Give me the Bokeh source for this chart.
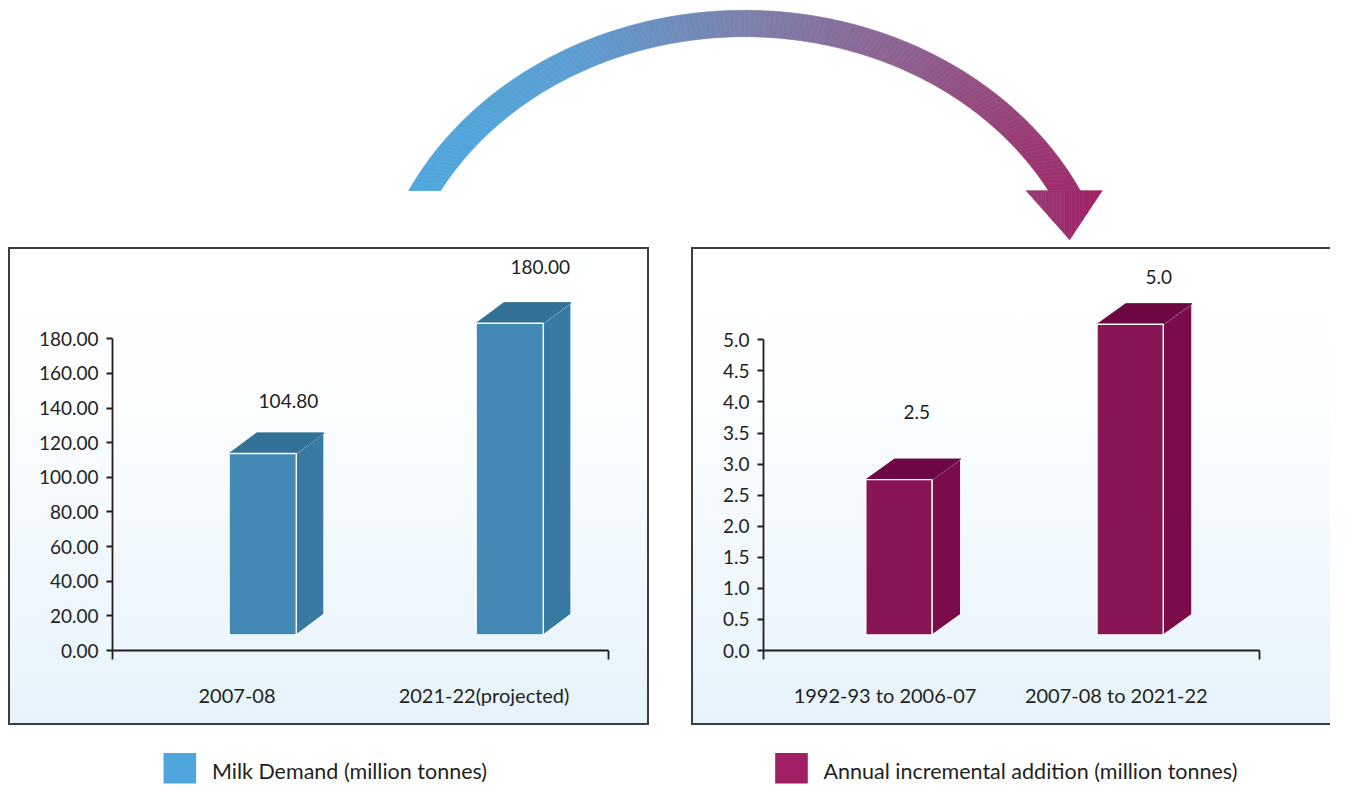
import math
from bokeh.plotting import figure
from bokeh.layouts import column, row
from bokeh.models import Spacer, FixedTicker
from bokeh.embed import file_html
from bokeh.resources import INLINE
from bokeh.core.properties import value

FONT = "Lato"
TEXT = "#231f20"

# ---------------- data ----------------
demand_periods = ["2007-08", "2021-22(projected)"]
demand_values = [104.80, 180.00]
demand_value_labels = ["104.80", "180.00"]
demand_ticks = [0, 20, 40, 60, 80, 100, 120, 140, 160, 180]
demand_tick_labels = ["0.00", "20.00", "40.00", "60.00", "80.00", "100.00",
                      "120.00", "140.00", "160.00", "180.00"]

addition_periods = ["1992-93 to 2006-07", "2007-08 to 2021-22"]
addition_values = [2.5, 5.0]
addition_value_labels = ["2.5", "5.0"]
addition_ticks = [0.0, 0.5, 1.0, 1.5, 2.0, 2.5, 3.0, 3.5, 4.0, 4.5, 5.0]
addition_tick_labels = ["0.0", "0.5", "1.0", "1.5", "2.0", "2.5",
                        "3.0", "3.5", "4.0", "4.5", "5.0"]

legend_labels = ["Milk Demand (million tonnes)",
                 "Annual incremental addition (million tonnes)"]

# ---------------- styles / layout ----------------
BLUE = dict(front="#4289b6", side="#387aa1", top="#347197", legend="#4ea6dc")
MAGENTA = dict(front="#881554", side="#7a0c4a", top="#6c0742", legend="#a11f63")
GRAD = "linear-gradient(to bottom, #ffffff 0%, #fcfeff 30%, #e6f3fb 100%)"

TOTAL_W, TOTAL_H = 1330, 785       # drawing size
REF_W, REF_H = 1346, 801           # design grid
SX, SY = TOTAL_W / REF_W, TOTAL_H / REF_H

PANEL_TOP, PANEL_BOT = 252, 740     # design grid rows
TOP_H = round(PANEL_TOP * SY)
PANEL_H = round(PANEL_BOT * SY) - TOP_H
LEG_H = TOTAL_H - TOP_H - PANEL_H


def make_panel(cats, vals, vlabels, ticks, tlabels, col, lay, shadow):
    fx0 = round(lay["box_x0"] * SX)
    fx1 = min(round(lay["box_x1"] * SX), TOTAL_W)
    W = fx1 - fx0
    H = PANEL_H
    ml = round(lay["frame_left"] * SX) - fx0
    mb = round(PANEL_BOT * SY) - round(lay["baseline_y"] * SY)
    fw, fh = W - ml, H - mb
    ppx = lay["cat_px"] * SX
    x0 = (lay["frame_left"] - lay["cat0_x"]) / lay["cat_px"]
    x1 = x0 + fw / ppx
    ymax = ticks[-1]
    ppy = (lay["baseline_y"] - lay["ymax_y"]) * SY / ymax
    y1 = fh / ppy

    p = figure(width=W, height=H, x_range=(x0, x1), y_range=(0, y1),
               output_backend="svg", toolbar_location=None,
               min_border_left=ml, min_border_right=0, min_border_top=0,
               min_border_bottom=mb, border_fill_color=None,
               background_fill_color=None, outline_line_color=None,
               styles={"background": GRAD, "box-shadow": shadow})
    p.grid.visible = False

    bw = lay["bar_px"] * SX / ppx
    dx = lay["depth_x"] * SX / ppx
    dy = lay["depth_y"] * SY / ppy
    base = 0.05 * ymax
    centers = [i + lay["shift"] for i in range(len(cats))]
    lefts = [c - bw / 2 for c in centers]
    rights = [c + bw / 2 for c in centers]
    tops = [base + v for v in vals]
    bottoms = [base for _ in vals]

    side_xs = [[r, r + dx, r + dx, r] for r in rights]
    side_ys = [[b, b + dy, t + dy, t] for b, t in zip(bottoms, tops)]
    top_xs = [[l, l + dx, r + dx, r] for l, r in zip(lefts, rights)]
    top_ys = [[t, t + dy, t + dy, t] for t in tops]

    p.patches(side_xs, side_ys, fill_color=col["side"], line_color="white", line_width=1.2)
    p.patches(top_xs, top_ys, fill_color=col["top"], line_color=col["top"], line_width=1)
    p.quad(left=lefts, right=rights, top=tops, bottom=bottoms,
           fill_color=col["front"], line_color="white", line_width=1.4)

    lab_x = [c + ldx * SX / ppx for c, ldx in zip(centers, lay["label_dx"])]
    lab_y = [t + ldy * SY / ppy for t, ldy in zip(tops, lay["label_dy"])]
    p.text(lab_x, lab_y, text=vlabels, text_align="center", text_baseline="middle",
           text_font=value(FONT), text_font_size="19px", text_color=TEXT)

    x_end = (lay["axis_end"] - lay["cat0_x"]) / lay["cat_px"]
    xa = p.xaxis[0]
    xa.ticker = FixedTicker(ticks=list(range(len(cats))), minor_ticks=[x0 + 1e-6, x_end - 1e-6])
    xa.major_label_overrides = {i: c for i, c in enumerate(cats)}
    xa.bounds = (x0, x_end)
    xa.major_tick_out = 0
    xa.major_tick_in = 0
    xa.minor_tick_out = 9
    xa.minor_tick_in = 0
    xa.minor_tick_line_width = 1.8
    xa.minor_tick_line_color = TEXT
    xa.axis_line_color = TEXT
    xa.axis_line_width = 1.8
    xa.major_label_standoff = 23
    xa.major_label_text_font = FONT
    xa.major_label_text_font_size = "20px"
    xa.major_label_text_color = TEXT

    ya = p.yaxis[0]
    ya.ticker = FixedTicker(ticks=ticks, minor_ticks=[])
    ya.major_label_overrides = {t: l for t, l in zip(ticks, tlabels)}
    ya.bounds = (0, ymax)
    ya.major_tick_out = 6
    ya.major_tick_in = 0
    ya.major_tick_line_width = 1.8
    ya.major_tick_line_color = TEXT
    ya.axis_line_color = TEXT
    ya.axis_line_width = 1.8
    ya.major_label_standoff = 8
    ya.major_label_text_font = FONT
    ya.major_label_text_font_size = "19px"
    ya.major_label_text_color = TEXT
    return p, fx0, fx1


left_layout = dict(box_x0=8, box_x1=657, frame_left=113, baseline_y=663, ymax_y=345,
                   cat0_x=239, cat_px=250, axis_end=615, bar_px=68, depth_x=28,
                   depth_y=21, shift=0.104, label_dx=[26, 31], label_dy=[54, 57])
right_layout = dict(box_x0=699, box_x1=1400, frame_left=772, baseline_y=663, ymax_y=346,
                    cat0_x=895, cat_px=234, axis_end=1274, bar_px=67, depth_x=29,
                    depth_y=21, shift=0.06, label_dx=[18, 29], label_dy=[69, 48])

left, lx0, lx1 = make_panel(demand_periods, demand_values, demand_value_labels, demand_ticks,
                            demand_tick_labels, BLUE, left_layout, "inset 0 0 0 2px #3d3d3d")
right, rx0, rx1 = make_panel(addition_periods, addition_values, addition_value_labels,
                             addition_ticks, addition_tick_labels, MAGENTA, right_layout,
                             "inset 2px 0 0 0 #3d3d3d, inset 0 2px 0 0 #3d3d3d, inset 0 -2px 0 0 #3d3d3d")

# ---------------- arrow (decoration, design-grid space) ----------------
arrow = figure(width=TOTAL_W, height=TOP_H, x_range=(0, REF_W), y_range=(PANEL_TOP, 0),
               output_backend="svg", toolbar_location=None, x_axis_type=None,
               y_axis_type=None, min_border=0, outline_line_color=None,
               border_fill_color=None, background_fill_color=None)
arrow.grid.visible = False

stops = [(413, (79, 168, 221)), (574, (90, 158, 211)), (753, (123, 129, 171)),
         (913, (141, 97, 144)), (1010, (150, 70, 122)), (1120, (160, 30, 98))]


def grad_color(x):
    c = stops[0][1] if x <= stops[0][0] else stops[-1][1]
    for (xa_, ca), (xb, cb) in zip(stops[:-1], stops[1:]):
        if xa_ <= x <= xb:
            f = (x - xa_) / (xb - xa_)
            c = tuple(int(round(a + (b - a) * f)) for a, b in zip(ca, cb))
            break
    return "#%02x%02x%02x" % c


cx, cy = 753.0, 340.0
ao, bo = 379.0, 330.0
ai, bi = 351.0, 303.0
yend = 194.0
t0o = math.asin((cy - yend) / bo)
t0i = math.asin((cy - yend) / bi)
N = 160
axs, ays, acol = [], [], []
for k in range(N):
    s1, s2 = k / N, (k + 1) / N
    pts = []
    for s, a, b, t0 in ((s1, ao, bo, t0o), (s2, ao, bo, t0o), (s2, ai, bi, t0i), (s1, ai, bi, t0i)):
        th = t0 + s * (math.pi - 2 * t0)
        pts.append((cx - a * math.cos(th), cy - b * math.sin(th)))
    axs.append([q[0] for q in pts])
    ays.append([q[1] for q in pts])
    acol.append(grad_color(sum(q[0] for q in pts) / 4))
arrow.patches(axs, ays, fill_color=acol, line_color=acol, line_width=0.6)

hx0, hx1, hy, tipx, tipy = 1038.0, 1115.0, 194.0, 1082.0, 244.0
M = 20


def head_bottom(x):
    if x <= tipx:
        return hy + (tipy - hy) * (x - hx0) / (tipx - hx0)
    return hy + (tipy - hy) * (hx1 - x) / (hx1 - tipx)


edges = sorted(set([hx0 + (hx1 - hx0) * j / M for j in range(M + 1)] + [tipx]))
hxs, hys, hcol = [], [], []
for xa_, xb in zip(edges[:-1], edges[1:]):
    hxs.append([xa_, xb, xb, xa_])
    hys.append([hy, hy, head_bottom(xb), head_bottom(xa_)])
    hcol.append(grad_color((xa_ + xb) / 2))
arrow.patches(hxs, hys, fill_color=hcol, line_color=hcol, line_width=0.6)

# ---------------- legend (design-grid space) ----------------
leg = figure(width=TOTAL_W, height=LEG_H, x_range=(0, REF_W), y_range=(REF_H, PANEL_BOT),
             output_backend="svg", toolbar_location=None, x_axis_type=None,
             y_axis_type=None, min_border=0, outline_line_color=None,
             border_fill_color=None, background_fill_color=None)
leg.grid.visible = False
sq_left = [165, 784]
leg.quad(left=sq_left, right=[x + 33 for x in sq_left], top=[768, 768], bottom=[799, 799],
         fill_color=[BLUE["legend"], MAGENTA["legend"]], line_color=None)
leg.text([x + 49 for x in sq_left], [786, 786], text=legend_labels, text_align="left",
         text_baseline="middle", text_font=value(FONT), text_font_size="21.5px",
         text_color=TEXT)

layout = column(arrow,
                row(Spacer(width=lx0, height=PANEL_H), left,
                    Spacer(width=rx0 - lx1, height=PANEL_H), right),
                leg)

open("out.html", "w").write(file_html(layout, INLINE))
